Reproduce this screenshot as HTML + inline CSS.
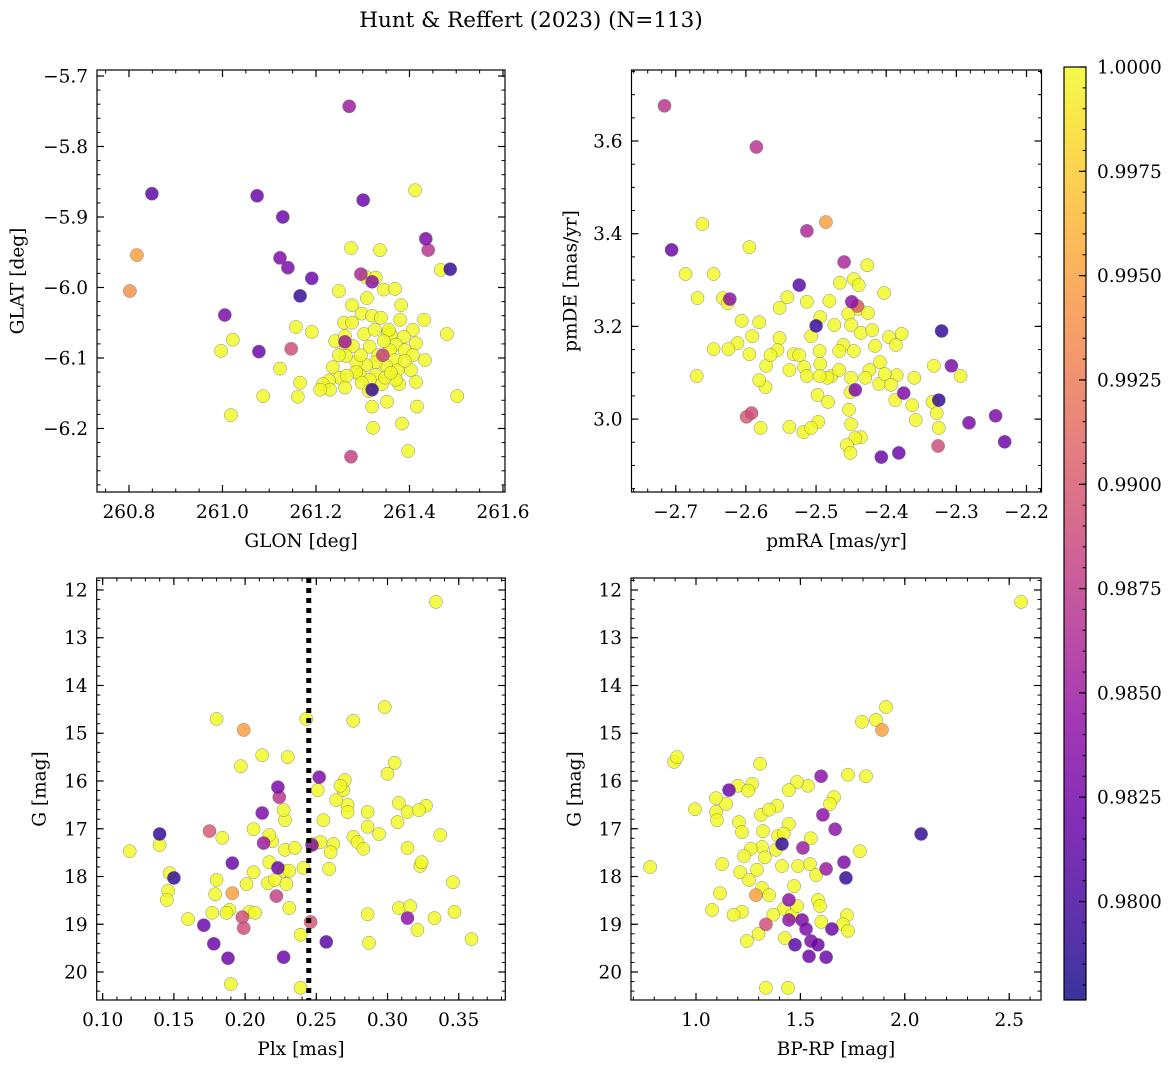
<!DOCTYPE html>
<html><head><meta charset="utf-8"><style>
html,body{margin:0;padding:0;background:#fff;}
svg{display:block;font-family:"DejaVu Serif","Liberation Serif",serif;}
</style></head><body>
<svg id="fig" width="1173" height="1067" viewBox="0 0 1173 1067" xmlns="http://www.w3.org/2000/svg">
<rect width="1173" height="1067" fill="#fff"/>
<text x="531" y="27" font-size="21.5" text-anchor="middle" fill="#000">Hunt &amp; Reffert (2023) (N=113)</text>
</svg>
<script>
// ---------- Panel 1 data: GLON / GLAT ----------
const P1_GLON=[261.271,260.849,261.074,261.301,261.129,260.817,261.123,261.140,261.435,261.440,261.487,261.296,261.320,261.191,260.802,261.166,261.005,261.078,261.147,261.262,261.320,261.343,261.275,
261.412,261.467,261.275,261.337,261.307,261.328,261.249,261.309,261.345,261.369,261.431,261.480,261.157,261.191,261.260,261.277,261.298,261.320,261.339,261.380,261.407,261.354,261.264,261.279,261.303,261.326,261.360,261.388,261.414,261.371,261.315,261.333,261.358,261.390,261.407,261.369,261.350,261.328,261.307,261.286,261.264,261.236,261.294,261.328,261.375,261.403,261.414,261.341,261.315,261.286,261.251,261.228,261.215,261.230,261.262,261.298,261.378,260.997,261.022,261.123,261.087,261.161,261.209,261.266,261.322,261.384,261.416,261.502,261.320,261.352,261.397,261.018,261.371,261.348,261.390,261.296,261.433,261.360,261.313,261.241,261.262,261.356,261.277,261.382,261.166,261.249,261.345];
const P1_GLAT=[-5.743,-5.867,-5.870,-5.876,-5.900,-5.954,-5.958,-5.972,-5.931,-5.947,-5.974,-5.981,-5.992,-5.987,-6.005,-6.012,-6.039,-6.091,-6.087,-6.077,-6.145,-6.096,-6.240,
-5.862,-5.975,-5.944,-5.947,-5.985,-5.986,-6.005,-6.015,-6.003,-6.002,-6.046,-6.066,-6.056,-6.063,-6.050,-6.050,-6.037,-6.040,-6.043,-6.046,-6.060,-6.064,-6.084,-6.083,-6.066,-6.060,-6.067,-6.070,-6.079,-6.081,-6.084,-6.096,-6.089,-6.089,-6.096,-6.103,-6.111,-6.106,-6.110,-6.106,-6.097,-6.113,-6.124,-6.124,-6.117,-6.117,-6.134,-6.137,-6.131,-6.120,-6.128,-6.132,-6.137,-6.145,-6.142,-6.135,-6.137,-6.090,-6.074,-6.115,-6.154,-6.155,-6.145,-6.125,-6.199,-6.193,-6.169,-6.154,-6.169,-6.162,-6.232,-6.181,-6.131,-6.128,-6.104,-6.096,-6.103,-6.121,-6.147,-6.076,-6.069,-6.060,-6.025,-6.025,-6.135,-6.096,-6.076];
const P1_PROB=[0.985,0.981,0.982,0.982,0.982,0.995,0.983,0.983,0.983,0.987,0.979,0.986,0.984,0.982,0.994,0.979,0.983,0.982,0.989,0.985,0.979,0.988,0.988];

// ---------- Panel 2 data: pmRA / pmDE ----------
const P2_PMRA=[-2.716,-2.706,-2.585,-2.513,-2.486,-2.460,-2.524,-2.623,-2.500,-2.449,-2.321,-2.307,-2.375,-2.325,-2.592,-2.599,-2.326,-2.244,-2.282,-2.231,-2.407,-2.382,-2.444,-2.441,
-2.662,-2.595,-2.686,-2.646,-2.669,-2.633,-2.626,-2.541,-2.552,-2.494,-2.481,-2.466,-2.446,-2.427,-2.403,-2.439,-2.454,-2.426,-2.474,-2.450,-2.436,-2.420,-2.461,-2.507,-2.495,-2.467,-2.446,-2.416,-2.396,-2.386,-2.378,-2.581,-2.552,-2.555,-2.532,-2.517,-2.494,-2.478,-2.467,-2.450,-2.424,-2.409,-2.385,-2.410,-2.451,-2.430,-2.612,-2.646,-2.625,-2.591,-2.595,-2.571,-2.670,-2.572,-2.538,-2.524,-2.498,-2.513,-2.484,-2.453,-2.450,-2.436,-2.444,-2.456,-2.451,-2.518,-2.483,-2.497,-2.538,-2.579,-2.495,-2.402,-2.393,-2.360,-2.387,-2.363,-2.334,-2.328,-2.325,-2.294,-2.358,-2.606,-2.513,-2.565,-2.439,-2.507,-2.581,-2.332];
const P2_PMDE=[3.676,3.365,3.587,3.406,3.425,3.339,3.289,3.259,3.201,3.253,3.190,3.115,3.056,3.041,3.013,3.005,2.942,3.007,2.992,2.951,2.918,2.927,3.063,3.244,
3.421,3.371,3.313,3.313,3.261,3.261,3.250,3.263,3.240,3.220,3.255,3.294,3.302,3.332,3.272,3.238,3.227,3.229,3.203,3.203,3.186,3.192,3.160,3.179,3.147,3.147,3.147,3.158,3.177,3.160,3.184,3.209,3.175,3.149,3.140,3.112,3.119,3.093,3.106,3.089,3.106,3.123,3.095,3.076,3.058,3.089,3.164,3.151,3.151,3.179,3.140,3.115,3.093,3.069,3.106,3.138,3.052,3.093,3.089,3.020,2.989,2.961,2.959,2.944,2.927,2.972,3.037,2.994,2.983,2.981,3.093,3.097,3.074,3.089,3.041,3.030,3.037,3.013,2.981,3.093,2.998,3.212,3.253,3.138,3.289,2.981,3.084,3.115];
const P2_PROB=[0.987,0.982,0.987,0.986,0.995,0.986,0.981,0.984,0.979,0.984,0.979,0.983,0.983,0.979,0.989,0.990,0.989,0.983,0.983,0.982,0.982,0.982,0.983,0.990];

// ---------- Panel 3 data: Plx / G ----------
const P3_PLX=[0.140,0.150,0.199,0.175,0.191,0.252,0.223,0.212,0.224,0.213,0.247,0.191,0.223,0.222,0.198,0.199,0.171,0.178,0.188,0.227,0.257,0.314,0.246,
0.334,0.119,0.140,0.147,0.146,0.145,0.160,0.177,0.179,0.180,0.189,0.201,0.203,0.207,0.216,0.217,0.219,0.217,0.228,0.235,0.227,0.221,0.229,0.212,0.230,0.228,0.231,0.231,0.239,0.241,0.248,0.251,0.255,0.253,0.262,0.260,0.259,0.269,0.270,0.267,0.272,0.272,0.264,0.276,0.279,0.286,0.286,0.283,0.294,0.298,0.305,0.300,0.308,0.314,0.307,0.314,0.327,0.322,0.337,0.323,0.324,0.308,0.316,0.321,0.333,0.347,0.359,0.346,0.286,0.287,0.243,0.276,0.180,0.197,0.184,0.190,0.239,0.206,0.206,0.187,0.227];
const P3_G=[17.11,18.03,14.93,17.05,18.35,15.92,16.13,16.67,16.34,17.30,17.34,17.72,17.82,18.41,18.85,19.08,19.02,19.41,19.71,19.69,19.37,18.87,18.95,
12.25,17.47,17.34,17.93,18.30,18.49,18.89,18.76,18.37,18.07,18.70,18.16,18.74,18.76,18.14,17.70,17.26,17.13,17.44,17.40,17.88,18.07,18.16,15.46,15.50,16.82,17.88,18.66,19.22,17.82,17.32,16.19,16.82,17.28,17.32,17.49,17.84,16.19,15.98,16.10,16.50,16.65,16.40,17.17,17.28,16.65,16.96,17.42,17.11,14.45,15.62,15.85,16.46,16.65,16.86,17.40,16.52,16.61,17.13,17.78,17.70,18.66,18.62,19.12,18.87,18.74,19.31,18.12,18.79,19.39,14.70,14.74,14.70,15.69,17.19,20.25,20.33,17.01,17.91,18.76,16.61];
const P3_PROB=[0.979,0.979,0.995,0.990,0.995,0.983,0.983,0.983,0.987,0.985,0.983,0.982,0.982,0.988,0.989,0.989,0.982,0.982,0.982,0.982,0.981,0.984,0.990];
const P3_DIVIDER_PLX=[0.2447];

// ---------- Panel 4 data: BP-RP / G ----------
const P4_BPRP=[2.078,1.158,1.599,1.608,1.666,1.412,1.512,1.709,1.623,1.718,1.287,1.445,1.445,1.335,1.508,1.527,1.551,1.623,1.541,1.474,1.584,1.651,1.891,
2.557,1.910,1.862,1.795,1.785,1.728,1.814,1.661,1.536,1.484,1.445,1.388,1.307,1.268,1.201,1.144,1.096,1.096,0.995,0.895,0.909,0.780,1.100,1.206,1.220,1.311,1.321,1.445,1.393,1.316,1.263,1.230,1.211,1.125,1.292,1.412,1.489,1.546,1.575,1.584,1.316,1.254,1.350,1.421,1.460,1.484,1.594,1.723,1.704,1.728,1.220,1.244,1.335,1.441,1.426,1.115,1.642,1.383,1.077,
1.25,1.35,1.42,1.55,1.33,1.47,1.60,1.37,1.18,1.30];
const P4_G=[17.11,16.19,15.90,16.71,17.01,17.32,17.40,17.70,17.84,18.03,18.39,18.49,18.91,19.00,18.91,19.10,19.35,19.69,19.67,19.43,19.43,19.10,14.93,
12.25,14.45,14.72,14.76,17.47,15.87,15.90,16.34,16.10,16.02,16.19,16.52,15.64,16.06,16.10,16.48,16.36,16.65,16.59,15.60,15.50,17.80,16.82,16.86,17.07,16.71,17.05,16.90,17.15,17.38,17.42,17.57,17.91,17.74,17.86,17.78,17.78,17.74,17.97,18.49,18.24,18.07,18.39,18.68,18.81,18.62,18.62,18.81,19.00,19.14,18.74,19.35,20.33,20.33,19.29,18.35,16.48,17.44,18.70,
16.20,16.60,17.10,17.20,17.60,18.20,18.95,18.80,18.80,19.20];
const P4_PROB=[0.979,0.982,0.984,0.984,0.984,0.979,0.985,0.983,0.985,0.979,0.995,0.984,0.984,0.989,0.983,0.983,0.983,0.982,0.982,0.981,0.982,0.982,0.995];

// ---------- tick labels ----------
const P1_XTICKS=[260.8,261.0,261.2,261.4,261.6];
const P1_YTICKS=[-5.7,-5.8,-5.9,-6.0,-6.1,-6.2];
const P2_XTICKS=[-2.7,-2.6,-2.5,-2.4,-2.3,-2.2];
const P2_YTICKS=[3.0,3.2,3.4,3.6];
const P3_XTICKS=[0.10,0.15,0.20,0.25,0.30,0.35];
const MAG_TICKS=[12,13,14,15,16,17,18,19,20];
const P4_XTICKS=[1.0,1.5,2.0,2.5];
const CB_TICKS=[0.98,0.9825,0.985,0.9875,0.99,0.9925,0.995,0.9975,1.0];
const CB_MIN=0.97764, CB_MAX=1.0;

const FS=18.5;
const NS='http://www.w3.org/2000/svg';
const svg=document.getElementById('fig');
const PLASMA=['#0d0887','#41049d','#6a00a8','#8f0da4','#b12a90','#cc4778','#e16462','#f2844b','#fca636','#fcce25','#f0f921'];
function hex(h){return [parseInt(h.slice(1,3),16),parseInt(h.slice(3,5),16),parseInt(h.slice(5,7),16)];}
function plasma(t){t=Math.max(0,Math.min(1,t));const s=t*10,i=Math.min(9,Math.floor(s)),f=s-i;const a=hex(PLASMA[i]),b=hex(PLASMA[i+1]);
 return 'rgb('+a.map((v,k)=>Math.round(v+(b[k]-v)*f)).join(',')+')';}
function mk(tag,attrs,parent){const e=document.createElementNS(NS,tag);for(const k in attrs)e.setAttribute(k,attrs[k]);(parent||svg).appendChild(e);return e;}
function fmtNum(v,d){const s=Math.abs(v).toFixed(d);return (v<0?'\u2212':'')+s;}

function panel(name,box,xr,yr,xt,xd,xminor,yt,yd,yminor,xlabel,ylabel,ylabX,xs,ys,ps){
  const g=mk('g',{});
  
  
  const sx=v=>box.x0+(v-xr[0])/(xr[1]-xr[0])*(box.x1-box.x0);
  const sy=v=>box.y0+(v-yr[0])/(yr[1]-yr[0])*(box.y1-box.y0);
  const order=xs.map((_,i)=>i).sort((a,b)=>((ps[b]??1)-(ps[a]??1)));
  order.forEach(i=>{
    const p=ps[i]??1;
    const c=mk('circle',{cx:sx(xs[i]).toFixed(1),cy:sy(ys[i]).toFixed(1),r:6.6,fill:plasma((p-CB_MIN)/(CB_MAX-CB_MIN)),'fill-opacity':0.82,stroke:'#707070','stroke-width':0.5,'stroke-opacity':0.8},g);
    
    
  });
  const fr=mk('rect',{x:box.x0,y:box.y0,width:box.x1-box.x0,height:box.y1-box.y0,fill:'none',stroke:'#000','stroke-width':1.2},g);
  
  
  function minor(step,range,isX){
    const lo=Math.min(range[0],range[1]),hi=Math.max(range[0],range[1]);
    for(let v=Math.ceil(lo/step-1e-6)*step;v<=hi+1e-9;v+=step){
      if(isX){const x=sx(v);mk('line',{x1:x,x2:x,y1:box.y1,y2:box.y1-3.5,stroke:'#000','stroke-width':1},g);mk('line',{x1:x,x2:x,y1:box.y0,y2:box.y0+3.5,stroke:'#000','stroke-width':1},g);}
      else{const y=sy(v);mk('line',{x1:box.x0,x2:box.x0+3.5,y1:y,y2:y,stroke:'#000','stroke-width':1},g);mk('line',{x1:box.x1,x2:box.x1-3.5,y1:y,y2:y,stroke:'#000','stroke-width':1},g);}
    }
  }
  minor(xminor,xr,true);minor(yminor,yr,false);
  xt.forEach(v=>{const x=sx(v);
    mk('line',{x1:x,x2:x,y1:box.y1,y2:box.y1-7,stroke:'#000','stroke-width':1.2},g);
    mk('line',{x1:x,x2:x,y1:box.y0,y2:box.y0+7,stroke:'#000','stroke-width':1.2},g);
    const t=mk('text',{x:x,y:box.y1+26,'font-size':FS,'text-anchor':'middle'},g);t.textContent=fmtNum(v,xd);
    
    
  });
  yt.forEach(v=>{const y=sy(v);
    mk('line',{x1:box.x0,x2:box.x0+7,y1:y,y2:y,stroke:'#000','stroke-width':1.2},g);
    mk('line',{x1:box.x1,x2:box.x1-7,y1:y,y2:y,stroke:'#000','stroke-width':1.2},g);
    const t=mk('text',{x:box.x0-9,y:y+6.5,'font-size':FS,'text-anchor':'end'},g);t.textContent=fmtNum(v,yd);
    
    
  });
  const xl=mk('text',{x:(box.x0+box.x1)/2,y:box.y1+55,'font-size':FS,'text-anchor':'middle'},g);xl.textContent=xlabel;
  
  
  const cy=(box.y0+box.y1)/2;
  const yl=mk('text',{x:ylabX,y:cy,'font-size':FS,'text-anchor':'middle','dominant-baseline':'central',transform:'rotate(-90 '+ylabX+' '+cy+')'},g);yl.textContent=ylabel;
  
  
  return {sx,sy,g};
}

panel('glon-glat-panel',{x0:97,x1:505,y0:70,y1:492},[260.7316,261.6043],[-5.6915,-6.2901],P1_XTICKS,1,0.05,P1_YTICKS,1,0.02,'GLON [deg]','GLAT [deg]',18,P1_GLON,P1_GLAT,P1_PROB);
panel('pm-panel',{x0:631.5,x1:1041.5,y0:70,y1:492},[-2.7631,-2.1786],[3.7532,2.8427],P2_XTICKS,1,0.02,P2_YTICKS,1,0.05,'pmRA [mas/yr]','pmDE [mas/yr]',571,P2_PMRA,P2_PMDE,P2_PROB);
const p3=panel('plx-g-panel',{x0:96.7,x1:505.3,y0:578,y1:1000},[0.0958,0.3827],[11.749,20.586],P3_XTICKS,2,0.01,MAG_TICKS,0,0.2,'Plx [mas]','G [mag]',40,P3_PLX,P3_G,P3_PROB);
P3_DIVIDER_PLX.forEach(v=>{
  const l=mk('line',{x1:p3.sx(v),x2:p3.sx(v),y1:578,y2:1000,stroke:'#000','stroke-width':5,'stroke-dasharray':'5,5'},p3.g);
  
  
});
panel('cmd-panel',{x0:631,x1:1041,y0:578,y1:1000},[0.6887,2.6523],[11.749,20.586],P4_XTICKS,1,0.1,MAG_TICKS,0,0.2,'BP-RP [mag]','G [mag]',575,P4_BPRP,P4_G,P4_PROB);

// ---------- colourbar ----------
const cbx0=1064,cbx1=1086,cby0=67,cby1=1000;
const defs=mk('defs',{});
const grad=mk('linearGradient',{id:'plasmaGrad',x1:0,y1:1,x2:0,y2:0},defs);
PLASMA.forEach((c,i)=>mk('stop',{offset:(i/10).toFixed(2),'stop-color':c},grad));
const cbg=mk('g',{});


mk('rect',{x:cbx0,y:cby0,width:cbx1-cbx0,height:cby1-cby0,fill:'url(#plasmaGrad)','fill-opacity':0.82},cbg);
mk('rect',{x:cbx0,y:cby0,width:cbx1-cbx0,height:cby1-cby0,fill:'none',stroke:'#000','stroke-width':1.2},cbg);
const cy=v=>cby1-(v-CB_MIN)/(CB_MAX-CB_MIN)*(cby1-cby0);
for(let v=0.978;v<=1.00001;v+=0.0005){const y=cy(v);mk('line',{x1:cbx1,x2:cbx1-3.5,y1:y,y2:y,stroke:'#000','stroke-width':1},cbg);}
CB_TICKS.forEach(v=>{const y=cy(v);
  mk('line',{x1:cbx1,x2:cbx1-7,y1:y,y2:y,stroke:'#000','stroke-width':1.2},cbg);
  const t=mk('text',{x:1097,y:y+6.5,'font-size':FS},cbg);t.textContent=v.toFixed(4);
  
  
});
</script>
</body></html>
